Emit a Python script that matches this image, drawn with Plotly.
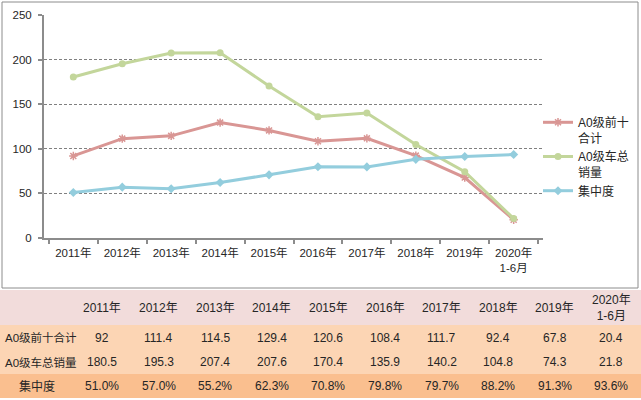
import plotly.graph_objects as go

years = ["2011年", "2012年", "2013年", "2014年", "2015年", "2016年", "2017年", "2018年", "2019年", "2020年<br>1-6月"]
top10 = [92, 111.4, 114.5, 129.4, 120.6, 108.4, 111.7, 92.4, 67.8, 20.4]
total = [180.5, 195.3, 207.4, 207.6, 170.4, 135.9, 140.2, 104.8, 74.3, 21.8]
conc = [51.0, 57.0, 55.2, 62.3, 70.8, 79.8, 79.7, 88.2, 91.3, 93.6]
series_names = ["A0级前十<br>合计", "A0级车总<br>销量", "集中度"]
row_labels = ["A0级前十合计", "A0级车总销量", "集中度"]

W, H = 641, 400
FONT = "Liberation Sans, Arial, Noto Sans CJK SC, sans-serif"
TXT = "#262626"
PINK, GREEN, BLUE = "#d99694", "#c3d69b", "#93cddd"

fig = go.Figure()
fig.add_trace(go.Scatter(x=years, y=top10, name=series_names[0], mode="lines+markers",
                         line=dict(color=PINK, width=3),
                         marker=dict(symbol="asterisk-open", size=7, line=dict(color=PINK, width=1.5))))
fig.add_trace(go.Scatter(x=years, y=total, name=series_names[1], mode="lines+markers",
                         line=dict(color=GREEN, width=3),
                         marker=dict(symbol="circle", size=7, color=GREEN)))
fig.add_trace(go.Scatter(x=years, y=conc, name=series_names[2], mode="lines+markers",
                         line=dict(color=BLUE, width=3),
                         marker=dict(symbol="diamond", size=7, color=BLUE)))

# ---------- table (hidden axes in table units) ----------
col_w = 56.6       # px per data column
first_c = 102.0    # px center of first data column
row_edges = [0, 35, 60, 84, 108]   # px from top of table
row_fills = ["#f2dcdb", "#fcd5b4", "#fcd5b4", "#fabf8f"]
fig.add_trace(go.Scatter(x=[0], y=[0], xaxis="x2", yaxis="y2", mode="markers",
                         marker=dict(opacity=0), showlegend=False, hoverinfo="skip"))

shapes = []
for i, f in enumerate(row_fills):
    shapes.append(dict(type="rect", xref="paper", yref="y2", x0=0, x1=1,
                       y0=row_edges[i], y1=row_edges[i + 1], fillcolor=f, line=dict(width=0), layer="below"))
# chart border
shapes.append(dict(type="rect", xref="paper", yref="paper", x0=2 / W, x1=638 / W,
                   y0=1 - 288 / H, y1=1 - 2 / H, line=dict(color="#8c8c8c", width=1), fillcolor="rgba(0,0,0,0)"))

ann = []
centers = [(row_edges[i] + row_edges[i + 1]) / 2 for i in range(4)]
for j, yl in enumerate(years):
    ann.append(dict(x=j, y=centers[0], xref="x2", yref="y2", text=yl, showarrow=False,
                    font=dict(size=12, color=TXT, family=FONT)))
rows = [[f"{v:g}" for v in top10], [f"{v:g}" for v in total], [f"{v:.1f}%" for v in conc]]
xmin = -first_c / col_w
for r, vals in enumerate(rows):
    for j, t in enumerate(vals):
        ann.append(dict(x=j, y=centers[r + 1], xref="x2", yref="y2", text=t, showarrow=False,
                        font=dict(size=12, color=TXT, family=FONT)))
    if r < 2:
        ann.append(dict(x=xmin + 3 / col_w, y=centers[r + 1], xref="x2", yref="y2", text=row_labels[r],
                        xanchor="left", showarrow=False, font=dict(size=11.5, color=TXT, family=FONT)))
    else:
        ann.append(dict(x=xmin + 37 / col_w, y=centers[r + 1], xref="x2", yref="y2", text=row_labels[r],
                        showarrow=False, font=dict(size=12, color=TXT, family=FONT)))

fig.update_layout(
    template="none",
    width=W, height=H, margin=dict(l=0, r=0, t=0, b=0, pad=0, autoexpand=False),
    paper_bgcolor="white", plot_bgcolor="white",
    font=dict(family=FONT, size=11.5, color=TXT),
    showlegend=True, hovermode=False,
    legend=dict(x=538 / W, y=1 - 108 / H, xanchor="left", yanchor="top", valign="top",
                font=dict(size=12, color=TXT, family=FONT), bgcolor="rgba(0,0,0,0)",
                tracegroupgap=0, borderwidth=0),
    xaxis=dict(domain=[44 / W, 543 / W], type="category", tickson="boundaries",
               ticks="outside", ticklen=4, tickcolor="#8c8c8c", tickwidth=1.5,
               showline=True, linecolor="#8c8c8c", linewidth=2, showgrid=False, automargin=False,
               tickfont=dict(size=11.5, color=TXT), ticklabelstandoff=3, anchor="y"),
    yaxis=dict(domain=[1 - 238 / H, 1 - 15 / H], range=[0, 250], dtick=50,
               ticks="outside", ticklen=4, tickcolor="#8c8c8c", tickwidth=1.5,
               showline=True, linecolor="#8c8c8c", linewidth=2, automargin=False,
               showgrid=True, gridcolor="#808080", griddash="3px,2px", gridwidth=1,
               zeroline=False, tickfont=dict(size=11.5, color=TXT), ticklabelstandoff=4, anchor="x"),
    xaxis2=dict(domain=[0, 1], range=[xmin, (W - first_c) / col_w], visible=False, anchor="y2", automargin=False),
    yaxis2=dict(domain=[1 - 398 / H, 1 - 290 / H], range=[row_edges[-1], 0], visible=False, anchor="x2", automargin=False),
    shapes=shapes, annotations=ann,
)

fig.write_html("out.html", config={"displayModeBar": False},
               post_script="document.body.style.margin='0';document.body.style.overflow='hidden';")
